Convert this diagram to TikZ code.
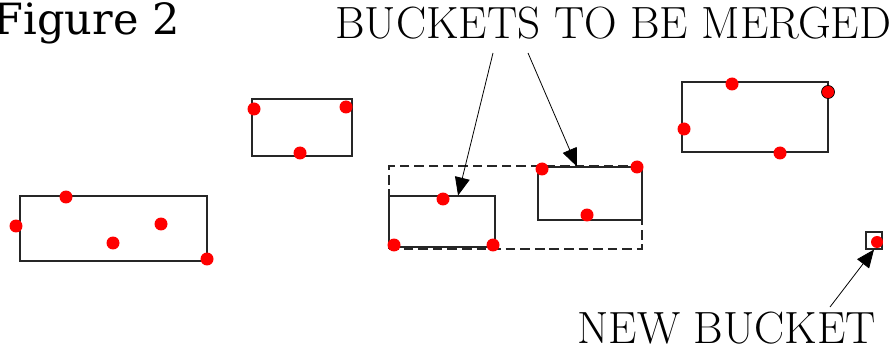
\documentclass[tikz,border=0pt]{standalone}
\usepackage{fontspec}
\newfontfamily\figfont{DejaVu Serif}
\usetikzlibrary{arrows.meta,fit,calc}

\begin{document}
\begin{tikzpicture}[
        x=0.02cm, y=-0.02cm,
        bucket/.style={draw=black!85,line width=0.6pt,inner sep=0pt},
        merged/.style={draw=black!85,line width=0.65pt,dash pattern=on 5.5pt off 2.8pt,inner sep=0pt},
        dot/.style={circle,fill=red,inner sep=0pt,minimum size=0.26cm},
        caps/.style={font=\fontsize{25.7}{30}\selectfont,inner sep=0pt},
        arrow/.style={line width=0.45pt,-{Triangle[length=0.36cm,width=0.3cm]}}
    ]
        \useasboundingbox (0,0) rectangle (891,347);

        % Buckets
        \node[bucket,fit={(20,196) (207,261)}] (a) {};
        \node[bucket,fit={(252,99) (352,156)}] (b) {};
        \node[bucket,fit={(389,196) (495,247)}] (c) {};
        \node[bucket,fit={(538,167) (642,220)}] (d) {};
        \node[bucket,fit={(682,82) (828,152)}] (e) {};
        \node[bucket,fit={(866,232) (882,249)}] (f) {};
        \node[merged,fit={(389,166) (642,249)}] (m) {};

        % Points
        \node[dot] (a1) at (16,226) {};
        \node[dot] (a2) at (66,197) {};
        \node[dot] (a3) at (113,243) {};
        \node[dot] (a4) at (161,224) {};
        \node[dot] (a5) at (207,259) {};
        \node[dot] (b1) at (254,109) {};
        \node[dot] (b2) at (346,107) {};
        \node[dot] (b3) at (300,153) {};
        \node[dot] (c1) at (443,199) {};
        \node[dot] (c2) at (394,245) {};
        \node[dot] (c3) at (493,245) {};
        \node[dot] (d1) at (542,169) {};
        \node[dot] (d2) at (637,167) {};
        \node[dot] (d3) at (587,215) {};
        \node[dot] (e1) at (732,84) {};
        \node[dot,draw=black,line width=0.4pt] (e2) at (828,92) {};
        \node[dot] (e3) at (684,129) {};
        \node[dot] (e4) at (780,153) {};
        \node[dot,minimum size=0.24cm] (f1) at (877,242) {};

        % Labels
        \node[font=\figfont\fontsize{24.5}{28}\selectfont,inner sep=0pt,anchor=base east] (fig) at (180,35) {Figure 2};
        \node[caps,anchor=base west] (toplbl) at (335,39) {BUCKETS TO BE MERGED};
        \node[caps,anchor=base west] (newlbl) at (577,343) {NEW BUCKET};

        % Arrows
        \coordinate (s1) at (493,53);
        \coordinate (s2) at (528,53);
        \coordinate (s3) at (830,307);
        \draw[arrow] (s1) -- ($(c.north west)!0.65!(c.north east)$);
        \draw[arrow] (s2) -- ($(d.north west)!0.375!(d.north east)$);
        \draw[arrow] (s3) -- (f.south);
    \end{tikzpicture}
\end{document}
